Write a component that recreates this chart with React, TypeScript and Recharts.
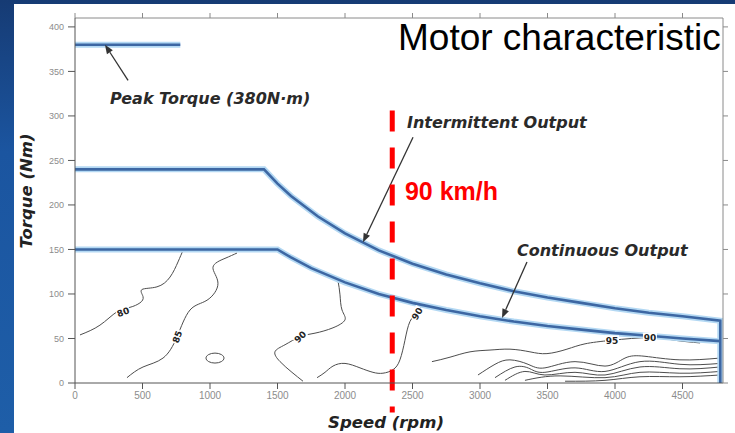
import { ComposedChart, Line, XAxis, YAxis, ReferenceLine, ReferenceDot } from "recharts"

const speedTicks = [0, 500, 1000, 1500, 2000, 2500, 3000, 3500, 4000, 4500]
const torqueTicks = [0, 50, 100, 150, 200, 250, 300, 350, 400]

// [speed (rpm), torque (Nm)]
const peakTorque = [[0, 380], [780, 380]]
const intermittent = [
  [0, 240], [1400, 240], [1500, 224], [1600, 210], [1800, 187], [2000, 168], [2250, 149],
  [2500, 134], [2750, 122], [3000, 112], [3250, 103], [3500, 96], [3750, 90], [4000, 84],
  [4250, 79], [4500, 75], [4780, 70], [4780, 0],
]
const continuous = [
  [0, 150], [1500, 150], [1600, 141], [1750, 129], [2000, 113], [2250, 100], [2500, 90],
  [2750, 82], [3000, 75], [3250, 69], [3500, 64], [3750, 60], [4000, 56], [4250, 53],
  [4500, 50], [4780, 47],
]

// efficiency contours
const contour80 = [
  [37, 54], [185, 65], [311, 80], [407, 85], [481, 90], [504, 97], [496, 105], [607, 108],
  [704, 119], [763, 136], [800, 149],
]
const contour85 = [
  [385, 6], [504, 18], [652, 28], [756, 52], [852, 82], [978, 93], [1059, 112], [1022, 130],
  [1111, 140], [1200, 146],
]
const island = [
  [1111, 28], [1089, 32.4], [1037, 34.2], [985, 32.4], [963, 28], [985, 23.6], [1037, 21.8], [1089, 23.6],
]
const contour90a = [
  [1948, 115], [1963, 99], [1978, 82], [2000, 71], [1911, 62], [1778, 56], [1667, 52],
  [1556, 43], [1481, 35], [1519, 24], [1607, 12], [1689, 2],
]
const contour90b = [
  [1793, 6], [1852, 12], [1911, 19], [2000, 22], [2111, 17], [2207, 12], [2281, 11],
  [2356, 15], [2407, 26], [2444, 48], [2481, 69], [2533, 79], [2570, 88],
]
const contour95 = [
  [2644, 24], [2778, 29], [2926, 35], [3074, 37], [3222, 38], [3370, 35], [3496, 33],
  [3644, 38], [3778, 44], [3978, 48], [4259, 51], [4444, 48], [4630, 45],
]
const ripple1 = [
  [2985, 9], [3111, 21], [3222, 26], [3356, 21], [3481, 17], [3704, 24], [3926, 19],
  [4074, 28], [4222, 30], [4481, 26], [4778, 28],
]
const ripple2 = [
  [3111, 6], [3259, 18], [3370, 16], [3481, 12], [3704, 17], [3926, 13], [4185, 24],
  [4481, 21], [4778, 22],
]
const ripple3 = [
  [3185, 3], [3333, 13], [3481, 9], [3704, 12], [3926, 9], [4185, 18], [4481, 16], [4778, 18],
]
const ripple4 = [[3333, 3], [3593, 8], [3926, 6], [4185, 12], [4481, 11], [4778, 13]]
const ripple5 = [[3630, 2], [3926, 3], [4185, 7], [4481, 7], [4778, 9]]

const contourTags = [
  { s: 356, t: 80, text: "80", angle: -20 },
  { s: 756, t: 52, text: "85", angle: -70 },
  { s: 1667, t: 52, text: "90", angle: -45 },
  { s: 2533, t: 78, text: "90", angle: -60 },
  { s: 3978, t: 48, text: "95", angle: 0 },
  { s: 4259, t: 51, text: "90", angle: 0 },
]

const notes = [
  { s: 259, t: 313.5, text: "Peak Torque (380N·m)" },
  { s: 2459, t: 286, text: "Intermittent Output" },
  { s: 3274, t: 143, text: "Continuous Output" },
]
const arrows = [
  { from: [393, 340], to: [222, 380] },
  { from: [2504, 276], to: [2133, 158] },
  { from: [3348, 136], to: [3163, 73] },
]

const markerSpeed = 2350
const markerRange = [306, -33]
const markerLabel = { s: 2444, t: 205.5, text: "90 km/h" }

const pts = (a: number[][]) => a.map(([s, t]) => ({ s, t }))

const BLUE = "#3d67a3"
const HALO = "#b3d8f3"
const INK = "#4d4d4d"
const noteFont = { fontFamily: "DejaVu Sans", fontWeight: "bold", fontStyle: "italic" } as const

// frame axes: tick marks only, no labels
const noLabel = () => <g />

function arrowShape(p: any) {
  const { x1, y1, x2, y2 } = p
  const a = Math.atan2(y2 - y1, x2 - x1)
  const L = 9, W = 3.5
  const bx = x2 - L * Math.cos(a), by = y2 - L * Math.sin(a)
  const left = `${bx + W * Math.sin(a)},${by - W * Math.cos(a)}`
  const right = `${bx - W * Math.sin(a)},${by + W * Math.cos(a)}`
  return (
    <g>
      <line x1={x1} y1={y1} x2={bx} y2={by} stroke="#333" strokeWidth={1.3} />
      <polygon points={`${x2},${y2} ${left} ${right}`} fill="#333" />
    </g>
  )
}

const contourLines = [contour80, contour85, contour90a, contour90b, contour95, ripple1, ripple2, ripple3, ripple4, ripple5]
const blueLines = [peakTorque, intermittent, continuous]

export default function App() {
  return (
    <div style={{ position: "absolute", left: 0, top: 0, width: 735, height: 433, overflow: "hidden",
      background: "linear-gradient(180deg, #163b74 0%, #1b55a0 35%, #1e5ea8 100%)" }}>
      <div style={{ position: "absolute", left: 14, top: 4, right: 0, bottom: 0, background: "#fff" }} />
      <div style={{ position: "absolute", left: 0, top: 0 }}>
        <ComposedChart width={735} height={433} margin={{ top: 17, right: 11, bottom: 20, left: 0 }}>
          <XAxis dataKey="s" type="number" domain={[0, 4800]} ticks={speedTicks} height={30}
            allowDataOverflow tickSize={6} tickMargin={3} stroke="#555"
            tick={{ fontSize: 10, fill: "#8c8c8c", fontFamily: "Liberation Sans" }} />
          <XAxis xAxisId="t" orientation="top" dataKey="s" type="number" domain={[0, 4800]}
            ticks={speedTicks} height={1} tickSize={5} allowDataOverflow stroke="#8a8a8a" tick={noLabel} />
          <YAxis type="number" domain={[0, 410]} ticks={torqueTicks} width={75} allowDataOverflow
            tickSize={7} tickMargin={4} stroke="#555"
            tick={{ fontSize: 9, fill: "#8c8c8c", fontFamily: "Liberation Sans" }} />
          <YAxis yAxisId="r" orientation="right" type="number" domain={[0, 410]} ticks={torqueTicks}
            width={1} tickSize={5} allowDataOverflow stroke="#8a8a8a" tick={noLabel} />

          {/* invisible series so the frame axes (top/right) get drawn */}
          <Line xAxisId="t" yAxisId="r" data={pts(peakTorque)} dataKey="t" stroke="none"
            dot={false} isAnimationActive={false} />

          {contourLines.map((c, i) => (
            <Line key={"c" + i} data={pts(c)} dataKey="t" type="natural" stroke={INK} strokeWidth={1}
              dot={false} isAnimationActive={false} />
          ))}
          <Line data={pts(island)} dataKey="t" type="basisClosed" stroke={INK} strokeWidth={1}
            dot={false} isAnimationActive={false} />

          {blueLines.map((b, i) => (
            <Line key={"h" + i} data={pts(b)} dataKey="t" type="linear" stroke={HALO} strokeWidth={6}
              dot={false} isAnimationActive={false} />
          ))}
          {blueLines.map((b, i) => (
            <Line key={"b" + i} data={pts(b)} dataKey="t" type="linear" stroke={BLUE} strokeWidth={2.6}
              dot={false} isAnimationActive={false} />
          ))}

          {contourTags.map((c, i) => (
            <ReferenceDot key={"tag" + i} x={c.s} y={c.t} r={0}
              shape={(p: any) => (
                <g transform={`translate(${p.cx},${p.cy}) rotate(${c.angle})`}>
                  <rect x={-7} y={-5} width={14} height={10} fill="#fff" />
                  <text x={0} y={3.5} textAnchor="middle" fontSize={9} fontWeight="bold"
                    fontFamily="DejaVu Sans" fill="#222">{c.text}</text>
                </g>
              )} />
          ))}

          {arrows.map((a, i) => (
            <ReferenceLine key={"a" + i} segment={[{ x: a.from[0], y: a.from[1] }, { x: a.to[0], y: a.to[1] }]}
              shape={arrowShape} />
          ))}
          {notes.map((n, i) => (
            <ReferenceDot key={"n" + i} x={n.s} y={n.t} r={0}
              shape={(p: any) => (
                <text x={p.cx} y={p.cy} fontSize={16} fill="#2a2a2a" {...noteFont}>{n.text}</text>
              )} />
          ))}

          <ReferenceLine segment={[{ x: markerSpeed, y: markerRange[0] }, { x: markerSpeed, y: markerRange[1] }]}
            ifOverflow="visible" stroke="#ff0000" strokeWidth={5} strokeDasharray="21 16" />
          <ReferenceDot x={markerLabel.s} y={markerLabel.t} r={0}
            shape={(p: any) => (
              <text x={p.cx} y={p.cy} fontSize={25} fontWeight="bold" fontFamily="Liberation Sans"
                fill="#ff0000">{markerLabel.text}</text>
            )} />
        </ComposedChart>
      </div>
      <svg width={735} height={433} style={{ position: "absolute", left: 0, top: 0, pointerEvents: "none" }}>
        <text x={398} y={50} fontSize={37} fontFamily="Liberation Sans" fill="#000">Motor characteristic</text>
        <text x={386} y={428} textAnchor="middle" fontSize={16.5} fill="#222" {...noteFont}>Speed (rpm)</text>
        <text transform="translate(32,191) rotate(-90)" textAnchor="middle" fontSize={16.5} fill="#222"
          {...noteFont}>Torque (Nm)</text>
      </svg>
    </div>
  )
}
